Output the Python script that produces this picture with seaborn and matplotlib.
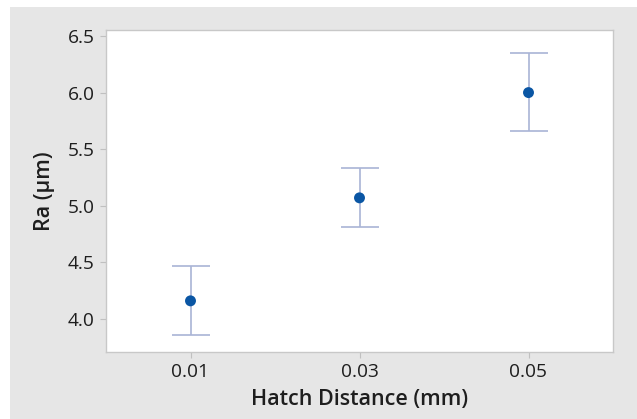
import matplotlib
matplotlib.use("Agg")
import matplotlib.pyplot as plt
import seaborn as sns
import pandas as pd
from matplotlib.patches import Rectangle

# Data
hatch = ["0.01", "0.03", "0.05"]
ra_mean = [4.16, 5.07, 6.00]
ra_low = [3.86, 4.815, 5.665]
ra_high = [4.465, 5.33, 6.35]
yticks = [4.0, 4.5, 5.0, 5.5, 6.0, 6.5]

df = pd.DataFrame({"hatch": hatch, "ra": ra_mean, "low": ra_low, "high": ra_high})

sns.set_theme(style="white")
plt.rcParams["font.family"] = ["Open Sans", "DejaVu Sans"]

fig = plt.figure(figsize=(6.37, 4.19), dpi=100, facecolor="white")
fig.patches.append(Rectangle((10 / 637, 0), 1 - 10 / 637, 1 - 7 / 419,
                             transform=fig.transFigure, facecolor="#e6e6e6",
                             edgecolor="none", zorder=-10))
ax = fig.add_axes([106 / 637, 1 - 352 / 419, (613 - 106) / 637, (352 - 30) / 419])
ax.set_zorder(1)
ax.set_facecolor("white")

sns.scatterplot(data=df, x="hatch", y="ra", ax=ax, color="#0a56a4", s=62,
                edgecolor="none", zorder=3, legend=False)
pos = list(range(len(hatch)))
yerr = [[m - l for m, l in zip(ra_mean, ra_low)], [h - m for m, h in zip(ra_mean, ra_high)]]
ax.errorbar(pos, ra_mean, yerr=yerr, fmt="none", ecolor="#a9b4d6", elinewidth=1.2,
            capsize=13.7, capthick=1.2, zorder=2)

ax.set_xlim(-0.5, 2.5)
ax.set_ylim(3.708, 6.553)
ax.set_xticks(pos)
ax.set_xticklabels(hatch)
ax.set_yticks(yticks)
ax.set_yticklabels([f"{v:.1f}" for v in yticks])

for s in ax.spines.values():
    s.set_color("#c8c8c8")
    s.set_linewidth(1.0)
ax.tick_params(axis="both", which="major", length=4, width=0.8, color="#c0c0c0",
               labelsize=13.8, labelcolor="#1e1e1e", pad=4, bottom=True, left=True)

ax.set_xlabel("Hatch Distance (mm)", fontsize=15.5, fontweight="semibold", color="#1e1e1e", labelpad=6)
ax.set_ylabel("Ra (µm)", fontsize=15.5, fontweight="semibold", color="#1e1e1e", labelpad=9)

fig.savefig("out.png", dpi=100, facecolor=fig.get_facecolor())
